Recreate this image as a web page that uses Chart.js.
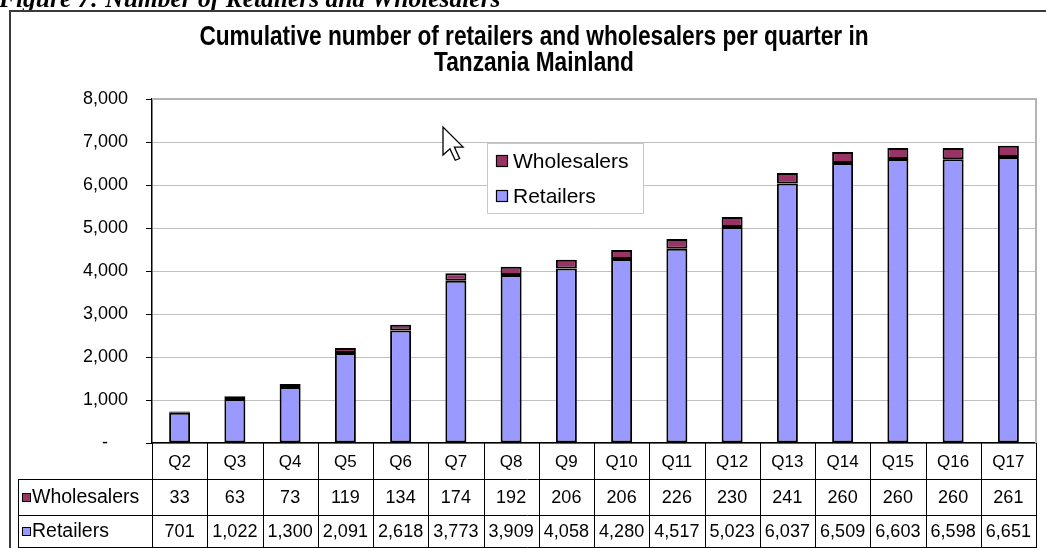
<!DOCTYPE html>
<html>
<head>
<meta charset="utf-8">
<script src="https://cdn.jsdelivr.net/npm/chart.js@4.4.1/dist/chart.umd.min.js"></script>
<style>
  html, body { margin: 0; padding: 0; background: #fff; }
  canvas { display: block; }
</style>
</head>
<body>
<canvas id="c" width="1046" height="548"></canvas>
<script>
// ---- data ----
const quarters = ['Q2','Q3','Q4','Q5','Q6','Q7','Q8','Q9','Q10','Q11','Q12','Q13','Q14','Q15','Q16','Q17'];
const retailers = [701,1022,1300,2091,2618,3773,3909,4058,4280,4517,5023,6037,6509,6603,6598,6651];
const wholesalers = [33,63,73,119,134,174,192,206,206,226,230,241,260,260,260,261];
const yTicks = [0,1000,2000,3000,4000,5000,6000,7000,8000];
const titleLines = ['Cumulative number of retailers and wholesalers per quarter in', 'Tanzania Mainland'];
const captionText = 'Figure 7: Number of Retailers and Wholesalers';

const FONT = "'Liberation Sans', Arial, sans-serif";
const fmt = v => v.toLocaleString('en-US');

const framePlugin = {
  id: 'frame',
  beforeDraw(chart) {
    const ctx = chart.ctx;
    ctx.save();
    ctx.fillStyle = '#fff';
    ctx.fillRect(0, 0, chart.width, chart.height);
    // caption (cut off at top)
    ctx.fillStyle = '#000';
    ctx.font = "bold italic 25.5px 'Liberation Serif', 'Times New Roman', serif";
    ctx.textBaseline = 'alphabetic';
    ctx.textAlign = 'left';
    ctx.fillText(captionText, -1, 7);
    // outer border
    ctx.strokeStyle = '#3a3a3a';
    ctx.lineWidth = 2;
    ctx.beginPath();
    ctx.moveTo(10, chart.height + 5);
    ctx.lineTo(10, 11);
    ctx.lineTo(chart.width + 5, 11);
    ctx.stroke();
    // title (narrow bold)
    ctx.font = "bold 28px " + FONT;
    ctx.textAlign = 'center';
    ctx.textBaseline = 'middle';
    const cx = 534, sx = 0.81;
    titleLines.forEach((t, i) => {
      ctx.save();
      ctx.translate(cx, 37 + i * 26);
      ctx.scale(sx, 1);
      ctx.fillText(t, 0, 0);
      ctx.restore();
    });
    ctx.restore();
  },
  beforeDatasetsDraw(chart) {
    const ctx = chart.ctx, a = chart.chartArea;
    ctx.save();
    ctx.strokeStyle = '#b4b4b4';
    ctx.lineWidth = 2;
    ctx.beginPath();
    ctx.moveTo(a.left, a.top);
    ctx.lineTo(a.right, a.top);
    ctx.lineTo(a.right, a.bottom);
    ctx.stroke();
    ctx.restore();
  },
  afterDraw(chart) {
    const ctx = chart.ctx, a = chart.chartArea, xs = chart.scales.x;
    const n = quarters.length;
    const bounds = [a.left];
    for (let i = 0; i < n - 1; i++) bounds.push((xs.getPixelForValue(i) + xs.getPixelForValue(i + 1)) / 2);
    bounds.push(a.right);
    const top = a.bottom, r1 = 479, r2 = 515, bot = 547, labL = 18;
    ctx.save();
    ctx.strokeStyle = '#000';
    ctx.lineWidth = 1;
    ctx.beginPath();
    bounds.forEach(b => { const x = Math.round(b) + 0.5; ctx.moveTo(x, top); ctx.lineTo(x, bot); });
    [r1, r2, bot].forEach(y => { ctx.moveTo(labL, y + 0.5); ctx.lineTo(Math.round(a.right) + 1, y + 0.5); });
    ctx.moveTo(labL + 0.5, r1); ctx.lineTo(labL + 0.5, bot + 1);
    ctx.stroke();
    // texts
    ctx.fillStyle = '#000';
    ctx.textAlign = 'center';
    ctx.textBaseline = 'middle';
    const rows = [
      { y: (r1 + r2) / 2, ds: chart.data.datasets[1] },
      { y: (r2 + bot) / 2, ds: chart.data.datasets[0] }
    ];
    for (let i = 0; i < n; i++) {
      const cx = xs.getPixelForValue(i);
      ctx.font = "17px " + FONT;
      ctx.fillText(quarters[i], cx, (top + r1) / 2 + 1);
      ctx.font = "18px " + FONT;
      rows.forEach(r => ctx.fillText(fmt(r.ds.data[i]), cx, r.y + 1));
    }
    ctx.textAlign = 'left';
    ctx.font = "19.5px " + FONT;
    rows.forEach(r => {
      ctx.fillStyle = r.ds.backgroundColor;
      ctx.fillRect(22, r.y - 4, 8, 8);
      ctx.strokeStyle = '#000';
      ctx.lineWidth = 1;
      ctx.strokeRect(22.5, r.y - 3.5, 8, 8);
      ctx.fillStyle = '#000';
      ctx.fillText(r.ds.label, 32, r.y + 1);
    });
    // legend inside plot
    const lx = 487, ly = 143, lw = 156, lh = 70;
    ctx.fillStyle = '#fff';
    ctx.fillRect(lx, ly, lw, lh);
    ctx.strokeStyle = '#c8c8c8';
    ctx.strokeRect(lx + 0.5, ly + 0.5, lw, lh);
    const items = [
      { y: 161, ds: chart.data.datasets[1] },
      { y: 196, ds: chart.data.datasets[0] }
    ];
    ctx.font = "21px " + FONT;
    items.forEach(it => {
      ctx.fillStyle = it.ds.backgroundColor;
      ctx.fillRect(497, it.y - 5, 10, 10);
      ctx.strokeStyle = '#000';
      ctx.lineWidth = 1.2;
      ctx.strokeRect(496.5, it.y - 5.5, 11, 11);
      ctx.fillStyle = '#000';
      ctx.fillText(it.ds.label, 513, it.y + 1);
    });
    // mouse cursor
    const pts = [[0,0],[0,16],[4,12.5],[7,19],[9.5,18],[6.5,11.5],[11.5,11.5]];
    const s = 1.75, tx = 443, ty = 127;
    ctx.beginPath();
    pts.forEach((p, i) => { const X = tx + p[0] * s, Y = ty + p[1] * s; i ? ctx.lineTo(X, Y) : ctx.moveTo(X, Y); });
    ctx.closePath();
    ctx.fillStyle = '#fff';
    ctx.fill();
    ctx.strokeStyle = '#000';
    ctx.lineWidth = 1.3;
    ctx.stroke();
    ctx.restore();
  }
};

new Chart(document.getElementById('c'), {
  type: 'bar',
  data: {
    labels: quarters,
    datasets: [
      { label: 'Retailers', data: retailers, backgroundColor: '#9999FF', borderColor: '#000', borderWidth: 2, borderSkipped: false, inflateAmount: 0 },
      { label: 'Wholesalers', data: wholesalers, backgroundColor: '#993366', borderColor: '#000', borderWidth: 2, borderSkipped: false, inflateAmount: 0 }
    ]
  },
  options: {
    responsive: false,
    animation: false,
    events: [],
    layout: { padding: { top: 99, right: 10, left: 0, bottom: 0 } },
    datasets: { bar: { categoryPercentage: 1, barPercentage: 0.38 } },
    plugins: { legend: { display: false }, title: { display: false }, tooltip: { enabled: false } },
    scales: {
      x: {
        stacked: true,
        grid: { display: false },
        border: { display: true, color: '#000', width: 1.5 },
        ticks: { display: false },
        afterFit(s) { s.height = 105; }
      },
      y: {
        stacked: true,
        min: 0, max: 8000,
        afterBuildTicks(s) { s.ticks = yTicks.map(v => ({ value: v })); },
        ticks: {
          color: '#000',
          padding: 18,
          font: { family: FONT, size: 18 },
          callback: v => v === 0 ? '-    ' : fmt(v)
        },
        grid: { color: '#c0c0c0', tickColor: '#000', tickLength: 6, lineWidth: 1 },
        border: { color: '#000', width: 1.5 },
        afterFit(s) { s.width = 152; }
      }
    }
  },
  plugins: [framePlugin]
});
</script>
</body>
</html>
